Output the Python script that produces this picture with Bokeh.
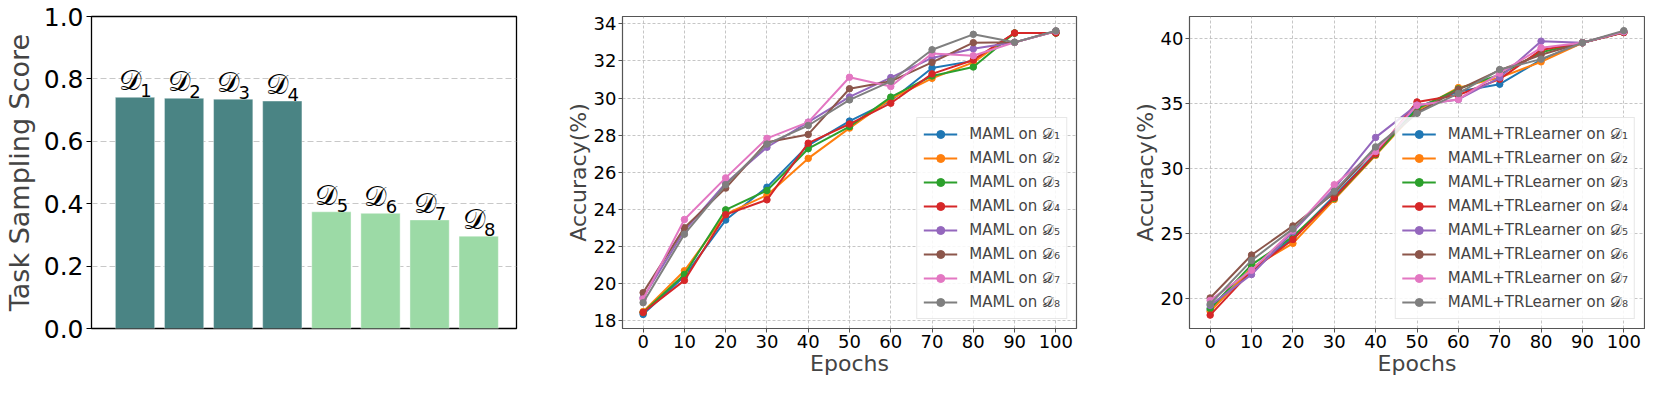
from bokeh.plotting import figure
from bokeh.layouts import row
from bokeh.models import Range1d, FixedTicker, ColumnDataSource, Legend, LegendItem
from bokeh.embed import file_html
from bokeh.resources import INLINE
from bokeh.core.properties import value

FONT = "DejaVu Sans"

# ---------------- data ----------------
domain_letter = "𝒟"
domain_index = ["1", "2", "3", "4", "5", "6", "7", "8"]
domains = ["𝒟₁", "𝒟₂", "𝒟₃", "𝒟₄", "𝒟₅", "𝒟₆", "𝒟₇", "𝒟₈"]
scores = [0.741, 0.738, 0.735, 0.729, 0.374, 0.369, 0.348, 0.296]
bar_colors = ["#4a8484"] * 4 + ["#9cdaa6"] * 4
score_ticks = [0.0, 0.2, 0.4, 0.6, 0.8, 1.0]
score_tick_labels = ["0.0", "0.2", "0.4", "0.6", "0.8", "1.0"]

epochs = [0, 10, 20, 30, 40, 50, 60, 70, 80, 90, 100]
epoch_ticks = [0, 10, 20, 30, 40, 50, 60, 70, 80, 90, 100]
maml_ticks = [18, 20, 22, 24, 26, 28, 30, 32, 34]
tr_ticks = [20, 25, 30, 35, 40]

maml_d1 = [18.35, 20.40, 23.43, 25.20, 27.45, 28.76, 29.85, 31.62, 32.00, 33.50, 33.50]
maml_d2 = [18.50, 20.70, 23.75, 24.77, 26.75, 28.38, 29.95, 31.06, 31.92, 33.50, 33.50]
maml_d3 = [18.45, 20.50, 23.98, 25.02, 27.27, 28.46, 30.05, 31.19, 31.67, 33.50, 33.50]
maml_d4 = [18.45, 20.18, 23.72, 24.52, 27.57, 28.60, 29.72, 31.30, 32.05, 33.50, 33.50]
maml_d5 = [19.25, 22.86, 25.41, 27.35, 28.70, 30.06, 31.10, 32.16, 32.65, 33.00, 33.60]
maml_d6 = [19.52, 23.02, 25.15, 27.62, 28.04, 30.50, 30.90, 31.92, 32.98, 33.00, 33.60]
maml_d7 = [19.18, 23.46, 25.70, 27.83, 28.70, 31.12, 30.62, 32.40, 32.28, 33.00, 33.60]
maml_d8 = [18.98, 22.67, 25.33, 27.52, 28.52, 29.90, 30.90, 32.60, 33.43, 33.00, 33.62]

tr_d1 = [19.15, 22.26, 24.69, 27.92, 31.20, 34.73, 35.95, 36.51, 38.40, 39.70, 40.50]
tr_d2 = [19.03, 22.38, 24.27, 27.64, 31.04, 34.50, 36.25, 37.02, 38.23, 39.70, 40.50]
tr_d3 = [19.26, 22.61, 24.80, 27.74, 31.10, 34.62, 36.15, 37.25, 38.97, 39.70, 40.50]
tr_d4 = [18.75, 22.15, 24.57, 27.80, 31.15, 35.15, 35.68, 36.90, 39.15, 39.70, 40.48]
tr_d5 = [19.50, 21.87, 25.15, 28.50, 32.42, 34.90, 35.34, 37.02, 39.82, 39.70, 40.55]
tr_d6 = [20.07, 23.37, 25.61, 28.15, 31.50, 34.32, 36.10, 37.59, 38.78, 39.70, 40.55]
tr_d7 = [19.88, 22.20, 25.27, 28.78, 31.34, 34.90, 35.34, 37.36, 39.31, 39.70, 40.55]
tr_d8 = [19.60, 22.96, 25.38, 28.27, 31.69, 34.27, 35.80, 37.64, 38.44, 39.70, 40.63]

maml_series = [maml_d1, maml_d2, maml_d3, maml_d4, maml_d5, maml_d6, maml_d7, maml_d8]
tr_series = [tr_d1, tr_d2, tr_d3, tr_d4, tr_d5, tr_d6, tr_d7, tr_d8]
line_colors = ["#1f77b4", "#ff7f0e", "#2ca02c", "#d62728",
               "#9467bd", "#8c564b", "#e377c2", "#7f7f7f"]

# ---------------- panel 1: bars ----------------
p1 = figure(width=518, height=378, output_backend="svg", toolbar_location=None,
            x_range=Range1d(-0.886, 7.77), y_range=Range1d(0, 1.0),
            min_border_left=87, min_border_right=2, min_border_top=16, min_border_bottom=10)
src = ColumnDataSource(dict(x=list(range(len(scores))), top=scores, color=bar_colors,
                            letter=[domain_letter] * len(scores), idx=domain_index))
p1.vbar(x="x", top="top", width=0.8, color="color", line_color="white", line_alpha=0.5,
        line_width=0.8, source=src)
p1.text(x="x", y="top", text="letter", source=src, text_align="center", text_baseline="bottom",
        x_offset=-5, text_font=value(FONT), text_font_size="28px", text_color="black")
p1.text(x="x", y="top", text="idx", source=src, text_align="center", text_baseline="bottom",
        x_offset=11, text_font=value(FONT), text_font_size="18px", text_color="black")
p1.xaxis.visible = False
p1.xgrid.visible = False
p1.yaxis.ticker = FixedTicker(ticks=score_ticks)
p1.yaxis.major_label_overrides = {t: l for t, l in zip(score_ticks, score_tick_labels)}
p1.yaxis.axis_label = "Task Sampling Score"
p1.yaxis.axis_label_text_font = FONT
p1.yaxis.axis_label_text_font_style = "normal"
p1.yaxis.axis_label_text_font_size = "27px"
p1.yaxis.major_label_text_font = FONT
p1.yaxis.major_label_text_font_size = "25px"
p1.yaxis.major_label_text_color = "black"
p1.yaxis.minor_tick_line_color = None
p1.yaxis.major_tick_out = 5
p1.yaxis.major_tick_in = 0
p1.yaxis.major_label_standoff = 3
p1.yaxis.axis_label_standoff = 6
p1.yaxis.axis_line_color = "black"
p1.yaxis.major_tick_line_color = "black"
p1.ygrid.grid_line_color = "#c8c8c8"
p1.ygrid.grid_line_dash = "6 3"
p1.ygrid.grid_line_width = 1.2
p1.outline_line_color = "black"
p1.outline_line_width = 1.3
p1.outline_line_alpha = 1


def line_panel(series, ticks, yr, width, left, right, label_prefix):
    p = figure(width=width, height=378, output_backend="svg", toolbar_location=None,
               x_range=Range1d(-5, 105), y_range=Range1d(*yr),
               min_border_left=left, min_border_right=right, min_border_top=1, min_border_bottom=44)
    items = []
    for i, ys in enumerate(series):
        lr = p.line(epochs, ys, color=line_colors[i], line_width=2)
        sr = p.scatter(epochs, ys, color=line_colors[i], size=6.5, marker="circle")
        items.append(LegendItem(label=label_prefix + " on " + domains[i], renderers=[lr, sr]))
    leg = Legend(items=items, location="bottom_right", label_text_font=FONT,
                 label_text_font_size="15px", glyph_width=34, glyph_height=20, label_height=20,
                 spacing=4, padding=6, margin=9, label_standoff=12,
                 border_line_color="#d0d0d0", border_line_width=1,
                 background_fill_color="white", background_fill_alpha=0.85)
    p.add_layout(leg)
    p.xaxis.ticker = FixedTicker(ticks=epoch_ticks)
    p.yaxis.ticker = FixedTicker(ticks=ticks)
    p.xaxis.axis_label = "Epochs"
    p.yaxis.axis_label = "Accuracy(%)"
    for ax in (p.xaxis, p.yaxis):
        ax.axis_label_text_font = FONT
        ax.axis_label_text_font_style = "normal"
        ax.axis_label_text_font_size = "22px"
        ax.major_label_text_font = FONT
        ax.major_label_text_font_size = "18px"
        ax.major_label_text_color = "black"
        ax.minor_tick_line_color = None
        ax.major_tick_out = 4
        ax.major_tick_in = 0
        ax.major_label_standoff = 2
        ax.axis_label_standoff = 0
        ax.axis_line_color = "#555555"
        ax.major_tick_line_color = "#555555"
    for g in (p.xgrid, p.ygrid):
        g.grid_line_color = "#b8b8b8"
        g.grid_line_dash = "3 2"
        g.grid_line_width = 0.8
    p.outline_line_color = "#555555"
    p.outline_line_width = 1.2
    p.outline_line_alpha = 1
    return p


p2 = line_panel(maml_series, maml_ticks, (17.59, 34.39), 560, 104, 2, "MAML")
p3 = line_panel(tr_series, tr_ticks, (17.72, 41.72), 567, 111, 1, "MAML+TRLearner")

layout = row(p1, p2, p3)
open("out.html", "w").write(file_html(layout, INLINE))
